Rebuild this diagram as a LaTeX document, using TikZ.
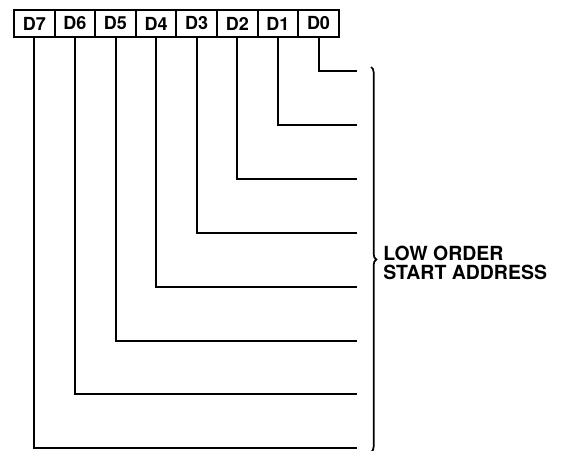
\documentclass[tikz,border=0pt]{standalone}
\usepackage{fontspec}
\setmainfont{TeX Gyre Heros}
\usetikzlibrary{decorations.pathreplacing}
\begin{document}
\begin{tikzpicture}[x=0.75pt,y=-0.75pt,
  bitbox/.style={draw,line width=1.4pt,minimum width=30.45pt,minimum height=20.25pt,inner sep=0pt,
    font=\fontsize{13.5}{15}\selectfont\bfseries},
  wire/.style={line width=1.5pt},
  bracestyle/.style={decorate,decoration={brace,amplitude=4pt},line width=1.3pt},
  lbl/.style={anchor=west,align=left,inner sep=0pt,font=\fontsize{14.6}{14.3}\selectfont\bfseries}]
\useasboundingbox (0,0) rectangle (563,450);
\foreach \i/\n in {0/7,1/6,2/5,3/4,4/3,5/2,6/1,7/0}{
  \node[bitbox] (d\n) at ({14+40.6*(\i+0.5)},23.5) {D\n};
}
\foreach \k in {0,...,7}{
  \coordinate (e\k) at (357,{71+53.9*\k});
  \draw[wire] (d\k.south) |- (e\k);
}
\coordinate (bt) at (371,67);
\coordinate (bb) at (371,452);
\draw[bracestyle] (bt) -- (bb);
\node[lbl] (txt) at (383,263) {LOW ORDER\\START ADDRESS};
\end{tikzpicture}
\end{document}
